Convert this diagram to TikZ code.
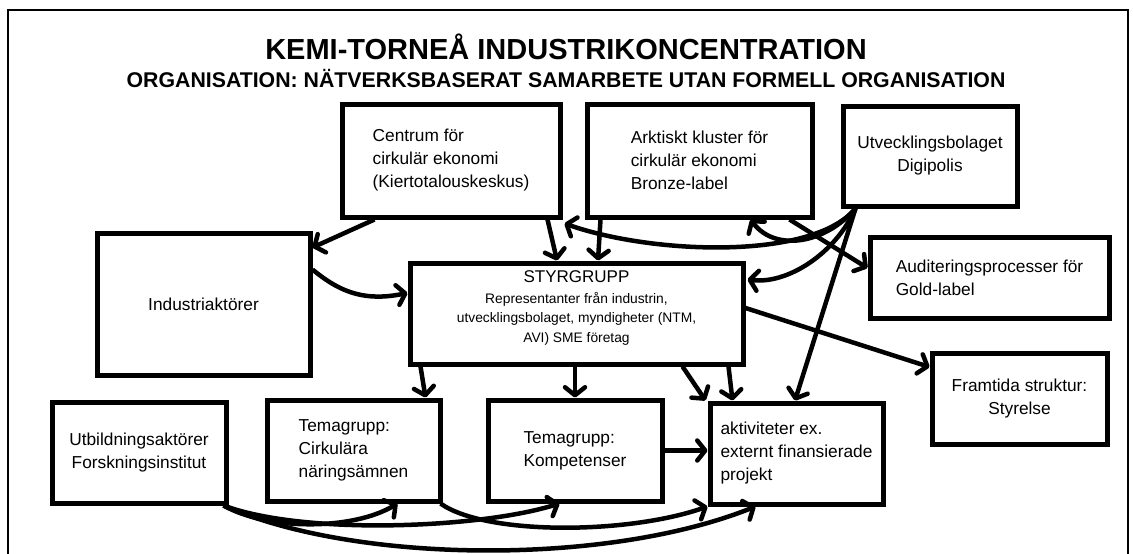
\documentclass[tikz,border=0pt]{standalone}
\usepackage{fontspec}
\setmainfont{Liberation Sans}
\usetikzlibrary{arrows.meta,calc}
\begin{document}
\begin{tikzpicture}[x=1pt,y=-1pt,
  box/.style={draw,line width=5pt,inner sep=0pt,font=\fontsize{17.3}{23}\selectfont},
  conn/.style={line width=4.5pt,-{Straight Barb[length=8pt,width=20pt,round]}},
  ]
\useasboundingbox (0,0) rectangle (1133,554);
\draw[line width=2pt] (8,600) -- (8,10) -- (1128,10) -- (1128,600);

\node (title) at (566,47) {\fontsize{29}{32}\selectfont\bfseries KEMI-TORNEÅ INDUSTRIKONCENTRATION};
\node (subtitle) at (566,79) {\fontsize{21.3}{24}\selectfont\bfseries ORGANISATION: NÄTVERKSBASERAT SAMARBETE UTAN FORMELL ORGANISATION};

\node[box,align=left,minimum width=218pt,minimum height=113pt] (cent) at (451,160.5) {Centrum för\\cirkulär ekonomi\\(Kiertotalouskeskus)};
\node[box,align=left,minimum width=225pt,minimum height=113pt] (ark) at (699.5,160.5) {Arktiskt kluster för\\cirkulär ekonomi\\Bronze-label};
\node[box,align=center,minimum width=174pt,minimum height=100pt] (digi) at (930,156) {Utvecklingsbolaget\\Digipolis};
\node[box,minimum width=213pt,minimum height=142pt] (ind) at (203.5,304) {Industriaktörer};
\node[box,minimum width=333pt,minimum height=101pt] (sty) at (576.5,313.5) {};
\node[align=center,inner sep=0pt,font=\fontsize{13.8}{19.5}\selectfont] (stytext) at (576.5,308) {{\fontsize{17}{21}\selectfont STYRGRUPP}\\[1pt]
  Representanter från industrin,\\utvecklingsbolaget, myndigheter (NTM,\\AVI) SME företag};
\node[box,align=left,minimum width=239pt,minimum height=81pt] (aud) at (989.5,277.5) {Auditeringsprocesser för\\Gold-label};
\node[box,align=center,minimum width=175pt,minimum height=91pt] (fram) at (1019.5,398.5) {Framtida struktur:\\Styrelse};
\node[box,align=center,minimum width=174pt,minimum height=101pt] (utb) at (139,452.5) {Utbildningsaktörer\\Forskningsinstitut};
\node[box,align=left,minimum width=173pt,minimum height=101pt] (cirk) at (353.5,450.5) {Temagrupp:\\Cirkulära\\näringsämnen};
\node[box,align=left,minimum width=174pt,minimum height=101pt] (komp) at (575,450.5) {Temagrupp:\\Kompetenser};
\node[box,align=left,minimum width=173pt,minimum height=101pt] (akt) at (796.5,453.5) {aktiviteter ex.\\externt finansierade\\projekt};

% top connectors
\draw[conn] ([xshift=35pt]cent.south west) -- ([yshift=-17pt]ind.north east);
\draw[conn] ([yshift=-39pt]ind.north east) .. controls +(30,25) and +(-40,8) .. ([yshift=20.5pt]sty.west);
\draw[conn] ([xshift=-15pt]cent.south east) -- ([xshift=-19.5pt]sty.north);
\draw[conn] ([xshift=16pt]ark.south west) -- ([xshift=21.5pt]sty.north);
\coordinate (d0) at ([xshift=15pt]digi.south west);
\draw[conn] (d0) .. controls +(-43,52) and +(88,31) .. ([xshift=2pt,yshift=-4pt]cent.south east);
\draw[conn] (d0) .. controls +(-30,35) and +(25,33) .. ([xshift=-64pt]ark.south east);
\draw[conn] ([xshift=-25pt]ark.south east) -- ([yshift=9.5pt]aud.west);
\draw[conn] (d0) .. controls +(-20,45) and +(40,5) .. ([xshift=2pt,yshift=-19pt]sty.north east);
\draw[conn] (d0) -- ([xshift=-1.5pt]akt.north);
\draw[conn] ([yshift=5.5pt]sty.east) -- ([yshift=31.5pt]fram.west);
% down connectors
\draw[conn] ([xshift=13pt]sty.south west) -- ([xshift=-17pt]cirk.north east);
\draw[conn] ([xshift=-1.5pt]sty.south) -- (komp.north);
\draw[conn] ([xshift=-63pt]sty.south east) -- ([xshift=-2pt]akt.north west);
\draw[conn] ([xshift=-17pt]sty.south east) -- ([xshift=25pt]akt.north west);
\draw[conn] (komp.east) -- (komp.east -| akt.west);
% bottom curves
\coordinate (u0) at ([xshift=-5pt]utb.south east);
\draw[conn] (u0) .. controls +(44,25) and +(-45,27) .. ([xshift=-45pt]cirk.south east);
\draw[conn] (u0) .. controls +(80,30) and +(-80,25) .. ([xshift=74pt]komp.south west);
\draw[conn] ([xshift=-2pt]cirk.south east) .. controls +(45,32) and +(-80,28) .. (akt.south west);
\draw[conn] (u0) .. controls +(130,58) and +(-150,60) .. ([xshift=48pt]akt.south west);
\end{tikzpicture}
\end{document}
